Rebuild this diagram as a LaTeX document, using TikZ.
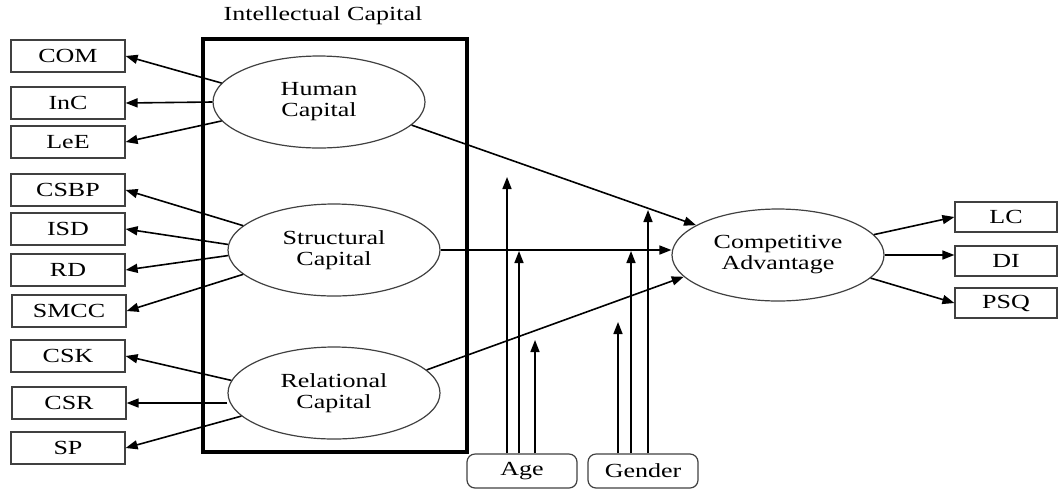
\documentclass[tikz,border=0pt]{standalone}
\usepackage{fontspec}
\setmainfont{Liberation Serif}[FakeStretch=1.3]
\usetikzlibrary{shapes.geometric, arrows.meta, positioning}

\begin{document}
\begin{tikzpicture}[x=0.5pt, y=-0.5pt,
  ind/.style={draw=black!75, line width=0.6pt, minimum width=57pt, minimum height=16pt, inner sep=0pt, font=\fontsize{10}{11}\selectfont},
  outd/.style={ind, minimum width=51pt, minimum height=15pt},
  latent/.style={ellipse, draw=black!75, line width=0.6pt, minimum width=106pt, minimum height=46pt, align=center, inner sep=0pt, font=\fontsize{10}{10.5}\selectfont},
  moder/.style={ind, rounded corners=4pt, minimum width=55pt, minimum height=17pt},
  arr/.style={-{Triangle[length=6pt, width=4.5pt]}, line width=0.8pt},
]
  \useasboundingbox (0,0) rectangle (1059,489);

  % Intellectual capital block
  \node[font=\fontsize{10}{11}\selectfont] (ictitle) at (323,16) {Intellectual Capital};
  \draw[line width=1.8pt] (203,39) rectangle (467,452);

  \node[latent] (hc) at (319,102) {Human\\Capital};
  \node[latent] (sc) at (334,250) {Structural\\Capital};
  \node[latent] (rc) at (334,393) {Relational\\Capital};
  \node[latent] (ca) at (778,255) {Competitive\\Advantage};

  % Indicators, left
  \node[ind] (com) at (68,56) {COM};
  \node[ind] (inc) at (68,103) {InC};
  \node[ind] (lee) at (68,142) {LeE};
  \node[ind] (csbp) at (68,190) {CSBP};
  \node[ind] (isd) at (68,229) {ISD};
  \node[ind] (rd) at (68,270) {RD};
  \node[ind] (smcc) at (69,311) {SMCC};
  \node[ind] (csk) at (68,356) {CSK};
  \node[ind] (csr) at (69,403) {CSR};
  \node[ind] (sp) at (68,448) {SP};

  % Indicators, right
  \node[outd] (lc) at (1006,217) {LC};
  \node[outd] (di) at (1006,261) {DI};
  \node[outd] (psq) at (1006,303) {PSQ};

  % Moderators
  \node[moder] (age) at (522,471) {Age};
  \node[moder] (gender) at (643,471) {Gender};

  \draw[arr] (hc.169) -- (com.east);
  \draw[arr] (hc.west) -- (inc.east);
  \draw[arr] (hc.191) -- (lee.east);
  \draw[arr] (sc.165) -- (csbp.east);
  \draw[arr] (sc.177) -- (isd.east);
  \draw[arr] (sc.183) -- (rd.east);
  \draw[arr] (sc.195) -- (smcc.east);
  \draw[arr] (rc.173) -- (csk.east);
  \draw[arr] (rc.west |- csr.east) -- (csr.east);
  \draw[arr] (rc.194) -- (sp.east);

  \draw[arr] (hc.346) -- (ca.160);
  \draw[arr] (sc.east) -- (sc.east -| ca.west);
  \draw[arr] (rc.14) -- (ca.193);

  \draw[arr] (ca.12) -- (lc.west);
  \draw[arr] (ca.east) -- (ca.east -| di.west);
  \draw[arr] (ca.346) -- (psq.west);

  % Moderating effects
  \coordinate (ag1) at (507,177);
  \coordinate (ag2) at (519,251);
  \coordinate (ag3) at (535,340);
  \coordinate (ge1) at (618,322);
  \coordinate (ge2) at (631,251);
  \coordinate (ge3) at (648,210);
  \draw[arr] (age.north -| ag1) -- (ag1);
  \draw[arr] (age.north -| ag2) -- (ag2);
  \draw[arr] (age.north -| ag3) -- (ag3);
  \draw[arr] (gender.north -| ge1) -- (ge1);
  \draw[arr] (gender.north -| ge2) -- (ge2);
  \draw[arr] (gender.north -| ge3) -- (ge3);
\end{tikzpicture}
\end{document}
